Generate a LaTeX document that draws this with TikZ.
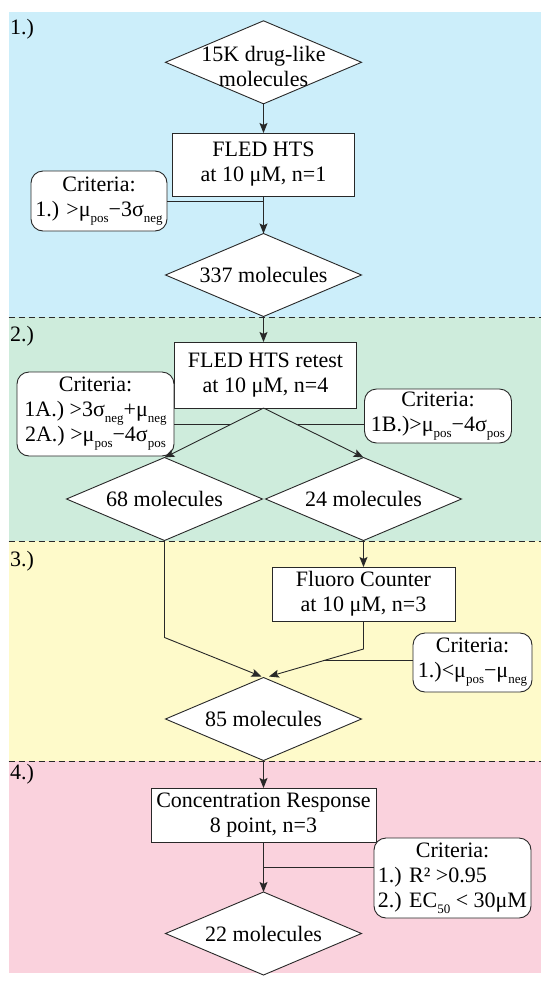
\documentclass[tikz,border=0pt]{standalone}
\usepackage{fontspec}
\setmainfont{Liberation Serif}
\usetikzlibrary{shapes.geometric,arrows.meta,calc}
\definecolor{bgblue}{RGB}{204,238,250}
\definecolor{bggreen}{RGB}{206,236,220}
\definecolor{bgyellow}{RGB}{254,250,202}
\definecolor{bgpink}{RGB}{250,210,221}
\definecolor{lncol}{RGB}{40,40,40}
\newcommand\dsub[1]{\raisebox{-6pt}{\fontsize{13}{13}\selectfont #1}}
\newcommand\mainfnt{\fontsize{22}{25}\selectfont\setlength{\lineskiplimit}{-100pt}}
\begin{document}
\begin{tikzpicture}[x=1pt,y=-1pt,
  every node/.style={font=\mainfnt, text=black},
  box/.style={draw=lncol, line width=0.9pt, fill=white, align=center, inner sep=0pt, outer sep=0pt},
  dia/.style={diamond, draw=lncol, line width=0.9pt, fill=white, inner sep=0pt, outer sep=0pt, minimum width=196pt, minimum height=83pt},
  crit/.style={draw=lncol, line width=0.9pt, fill=white, rounded corners=12pt, align=center, inner sep=0pt, outer sep=0pt},
  txt/.style={align=center, inner sep=0pt},
  arr/.style={draw=lncol, line width=0.9pt, -{Stealth[length=10pt,width=8pt,inset=2pt]}},
  conn/.style={draw=lncol, line width=0.9pt},
  sep/.style={draw=lncol, line width=0.8pt, dash pattern=on 6pt off 4pt},
  lab/.style={anchor=base west, inner sep=0pt}]
\useasboundingbox (0,0) rectangle (550,989);
% backgrounds
\fill[bgblue] (8.5,11.7) rectangle (541,317);
\fill[bggreen] (8.5,317) rectangle (541,541);
\fill[bgyellow] (8.5,541) rectangle (541,761);
\fill[bgpink] (8.5,761) rectangle (541,973);
\draw[sep] (8.5,317) -- (541,317);
\draw[sep] (8.5,541) -- (541,541);
\draw[sep] (8.5,761) -- (541,761);
% section labels
\node[lab] (s1) at (10,34) {1.)};
\node[lab] (s2) at (10,341) {2.)};
\node[lab] (s3) at (10,566) {3.)};
\node[lab] (s4) at (10,779) {4.)};
% section 1
\node[dia] (d1) at (263.5,62.3) {};
\node[txt] (d1t) at (263.5,66) {15K drug-like\\molecules};
\node[box, minimum width=182pt, minimum height=63pt] (b1) at (263.5,164.5) {FLED HTS\\at 10 μM, n=1};
\node[crit, minimum width=136pt, minimum height=60pt] (c1) at (99,201) {Criteria:\\1.) >μ\dsub{pos}−3σ\dsub{neg}};
\node[dia] (d2) at (263.5,275) {};
\node[txt] (d2t) at (263.5,275) {337 molecules};
% section 2
\node[box, minimum width=182pt, minimum height=66pt] (b2) at (265.5,375) {FLED HTS retest\\at 10 μM, n=4};
\node[crit, minimum width=157pt, minimum height=84pt] (c2a) at (95.5,414) {Criteria:\\1A.) >3σ\dsub{neg}+μ\dsub{neg}\\2A.) >μ\dsub{pos}−4σ\dsub{pos}};
\node[crit, minimum width=147pt, minimum height=54pt] (c2b) at (438,416) {Criteria:\\1B.)>μ\dsub{pos}−4σ\dsub{pos}};
\node[dia] (d68) at (164.5,499) {};
\node[txt] (d68t) at (164.5,499) {68 molecules};
\node[dia] (d24) at (363.5,499) {};
\node[txt] (d24t) at (363.5,499) {24 molecules};
% section 3
\node[box, minimum width=183pt, minimum height=54pt] (b3) at (363.5,594) {Fluoro Counter\\at 10 μM, n=3};
\node[crit, minimum width=119pt, minimum height=59pt] (c3) at (472.5,662.5) {Criteria:\\1.)<μ\dsub{pos}−μ\dsub{neg}};
\node[dia] (d85) at (263.5,719) {};
\node[txt] (d85t) at (263.5,719) {85 molecules};
% section 4
\node[box, minimum width=225pt, minimum height=54pt] (b4) at (263.5,815) {Concentration Response\\8 point, n=3};
\node[crit, align=left, minimum width=157pt, minimum height=80pt] (c4) at (452.5,878) {\hspace*{38pt}Criteria:\\1.) R² >0.95\\2.) EC\dsub{50} < 30μM};
\node[dia] (d22) at (263.5,933.5) {};
\node[txt] (d22t) at (263.5,933.5) {22 molecules};
% connectors
\draw[arr] (d1.south) -- (b1.north);
\draw[arr] (b1.south) -- (d2.north);
\draw[conn] (c1.east) -- (c1.east -| b1.south);
\draw[arr] (d2.south) -- (d2.south |- b2.north);
\draw[arr] (b2.south -| d2.south) -- (d68.north);
\draw[arr] (b2.south -| d2.south) -- (d24.north);
\coordinate (h2l) at ($(b2.south -| d2.south)!0.34!(d68.north)$);
\coordinate (h2r) at ($(b2.south -| d2.south)!0.34!(d24.north)$);
\draw[conn] (c2a.east |- h2l) -- (h2l);
\draw[conn] (h2r) -- (c2b.west |- h2r);
\path (d68.south) ++(0,97) coordinate (k1);
\coordinate (m1) at ($(d85.north)+(-2,-1)$);
\coordinate (m2) at ($(d85.north)+(5.5,-1)$);
\draw[arr] (d68.south) -- (k1) -- (m1);
\draw[arr] (d24.south) -- (b3.north);
\path (b3.south) ++(0,28) coordinate (k2);
\draw[arr] (b3.south) -- (k2) -- (m2);
\coordinate (h3) at ($(k2)!0.43!(m2)$);
\draw[conn] (h3) -- (c3.west |- h3);
\draw[arr] (d85.south) -- (b4.north);
\draw[arr] (b4.south) -- (d22.north);
\path (b4.south) ++(0,25) coordinate (h4);
\draw[conn] (h4) -- (c4.west |- h4);
\end{tikzpicture}
\end{document}
